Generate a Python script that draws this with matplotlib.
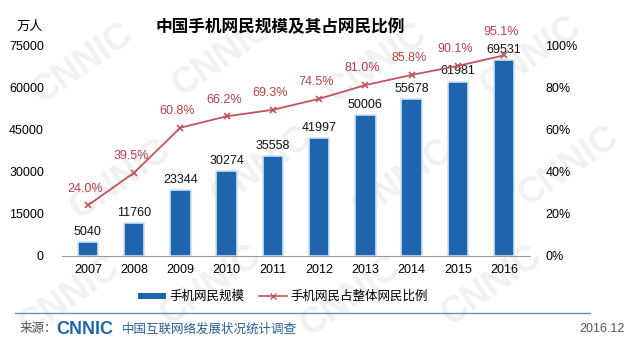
import numpy as np
import matplotlib as mpl
mpl.use('Agg')
import matplotlib.pyplot as plt
from matplotlib.lines import Line2D
from matplotlib.patches import Patch

plt.rcParams['font.family'] = ['Liberation Sans', 'Noto Sans CJK SC', 'DejaVu Sans']

# Mobile internet users (10k people) and share of all internet users
years = ['2007', '2008', '2009', '2010', '2011', '2012', '2013', '2014', '2015', '2016']
users = [5040, 11760, 23344, 30274, 35558, 41997, 50006, 55678, 61981, 69531]
share = [24.0, 39.5, 60.8, 66.2, 69.3, 74.5, 81.0, 85.8, 90.1, 95.1]

bar_color = '#1f65ae'
line_color = '#c05561'
pct_color = '#b8404c'

fig = plt.figure(figsize=(6.4, 3.42), dpi=100)
fig.patch.set_facecolor('white')

# faint watermark in the background
wm_pos = [(0.02, 0.02), (0.24, 0.05), (0.46, 0.02), (0.68, 0.05),
          (0.10, 0.36), (0.32, 0.40), (0.54, 0.36), (0.80, 0.40),
          (0.04, 0.70), (0.26, 0.72), (0.50, 0.70), (0.74, 0.72)]
for wx, wy in wm_pos:
    fig.text(wx, wy, 'CNNIC', fontsize=26, fontweight='bold',
             color='#f1f1f1', rotation=35, zorder=-5)

ax = fig.add_axes([62 / 640, 1 - 256 / 342, 468 / 640, 211 / 342])
ax.set_facecolor('none')
x = np.arange(len(years))

ax.bar(x, users, width=0.44, color=bar_color, edgecolor='#cfe2f2', linewidth=1.2, zorder=2)
ax.set_xlim(-0.56, 9.56)
ax.set_ylim(0, 75000)
ax.set_yticks([0, 15000, 30000, 45000, 60000, 75000])
ax.set_xticks(x)
ax.set_xticklabels(years)
for s in ['top', 'right', 'left']:
    ax.spines[s].set_visible(False)
ax.spines['bottom'].set_color('#999999')
ax.tick_params(axis='y', length=0, pad=13, labelsize=9)
ax.tick_params(axis='x', length=0, pad=6, labelsize=9)

for xi, v in zip(x, users):
    ax.annotate(str(v), (xi, v), xytext=(0, 3), textcoords='offset points',
                ha='center', va='bottom', fontsize=9, color='#111111')

ax2 = ax.twinx()
ax2.set_ylim(0, 100)
ax2.set_yticks([0, 20, 40, 60, 80, 100])
ax2.set_yticklabels([f'{t}%' for t in [0, 20, 40, 60, 80, 100]])
for s in ['top', 'right', 'left', 'bottom']:
    ax2.spines[s].set_visible(False)
ax2.tick_params(axis='y', length=0, pad=11, labelsize=9)
ax2.plot(x, share, color=line_color, marker='x', markersize=5, markeredgewidth=1.2,
         linewidth=1.3, zorder=3)
for xi, p in zip(x, share):
    dy = 17 if xi == 9 else 12
    ax2.annotate(f'{p:.1f}%', (xi, p), xytext=(-2, dy), textcoords='offset points',
                 ha='center', va='center', fontsize=9, color=pct_color)

fig.text(30 / 640, 1 - 27 / 342, '万人', fontsize=9.5, ha='center', va='center')
fig.text(280 / 640, 1 - 27 / 342, '中国手机网民规模及其占网民比例', fontsize=12,
         fontweight='bold', ha='center', va='center')

# legend
leg_handles = [Patch(facecolor=bar_color, edgecolor='none'),
               Line2D([0], [0], color=line_color, marker='x', markersize=4, linewidth=1.2)]
fig.legend(leg_handles, ['手机网民规模', '手机网民占整体网民比例'], loc='center',
           bbox_to_anchor=(283 / 640, 1 - 297 / 342), ncol=2, frameon=False,
           fontsize=9, handlelength=2.2, handleheight=0.35, columnspacing=1.2,
           handletextpad=0.3)

# footer
fig.add_artist(Line2D([15 / 640, 590 / 640], [1 - 313 / 342] * 2, color='#6f8fb3',
                      linewidth=1.0))
fig.text(20 / 640, 1 - 329 / 342, '来源：', fontsize=9, color='#555555', va='center')
fig.text(56 / 640, 1 - 329 / 342, 'CNNIC', fontsize=13, fontweight='bold',
         color='#1f65ae', va='center')
fig.text(122 / 640, 1 - 329 / 342, '中国互联网络发展状况统计调查', fontsize=9,
         color='#2d5f95', va='center')
fig.text(625 / 640, 1 - 329 / 342, '2016.12', fontsize=9, color='#555555',
         ha='right', va='center')

plt.savefig('out.png', dpi=100)
plt.close()
